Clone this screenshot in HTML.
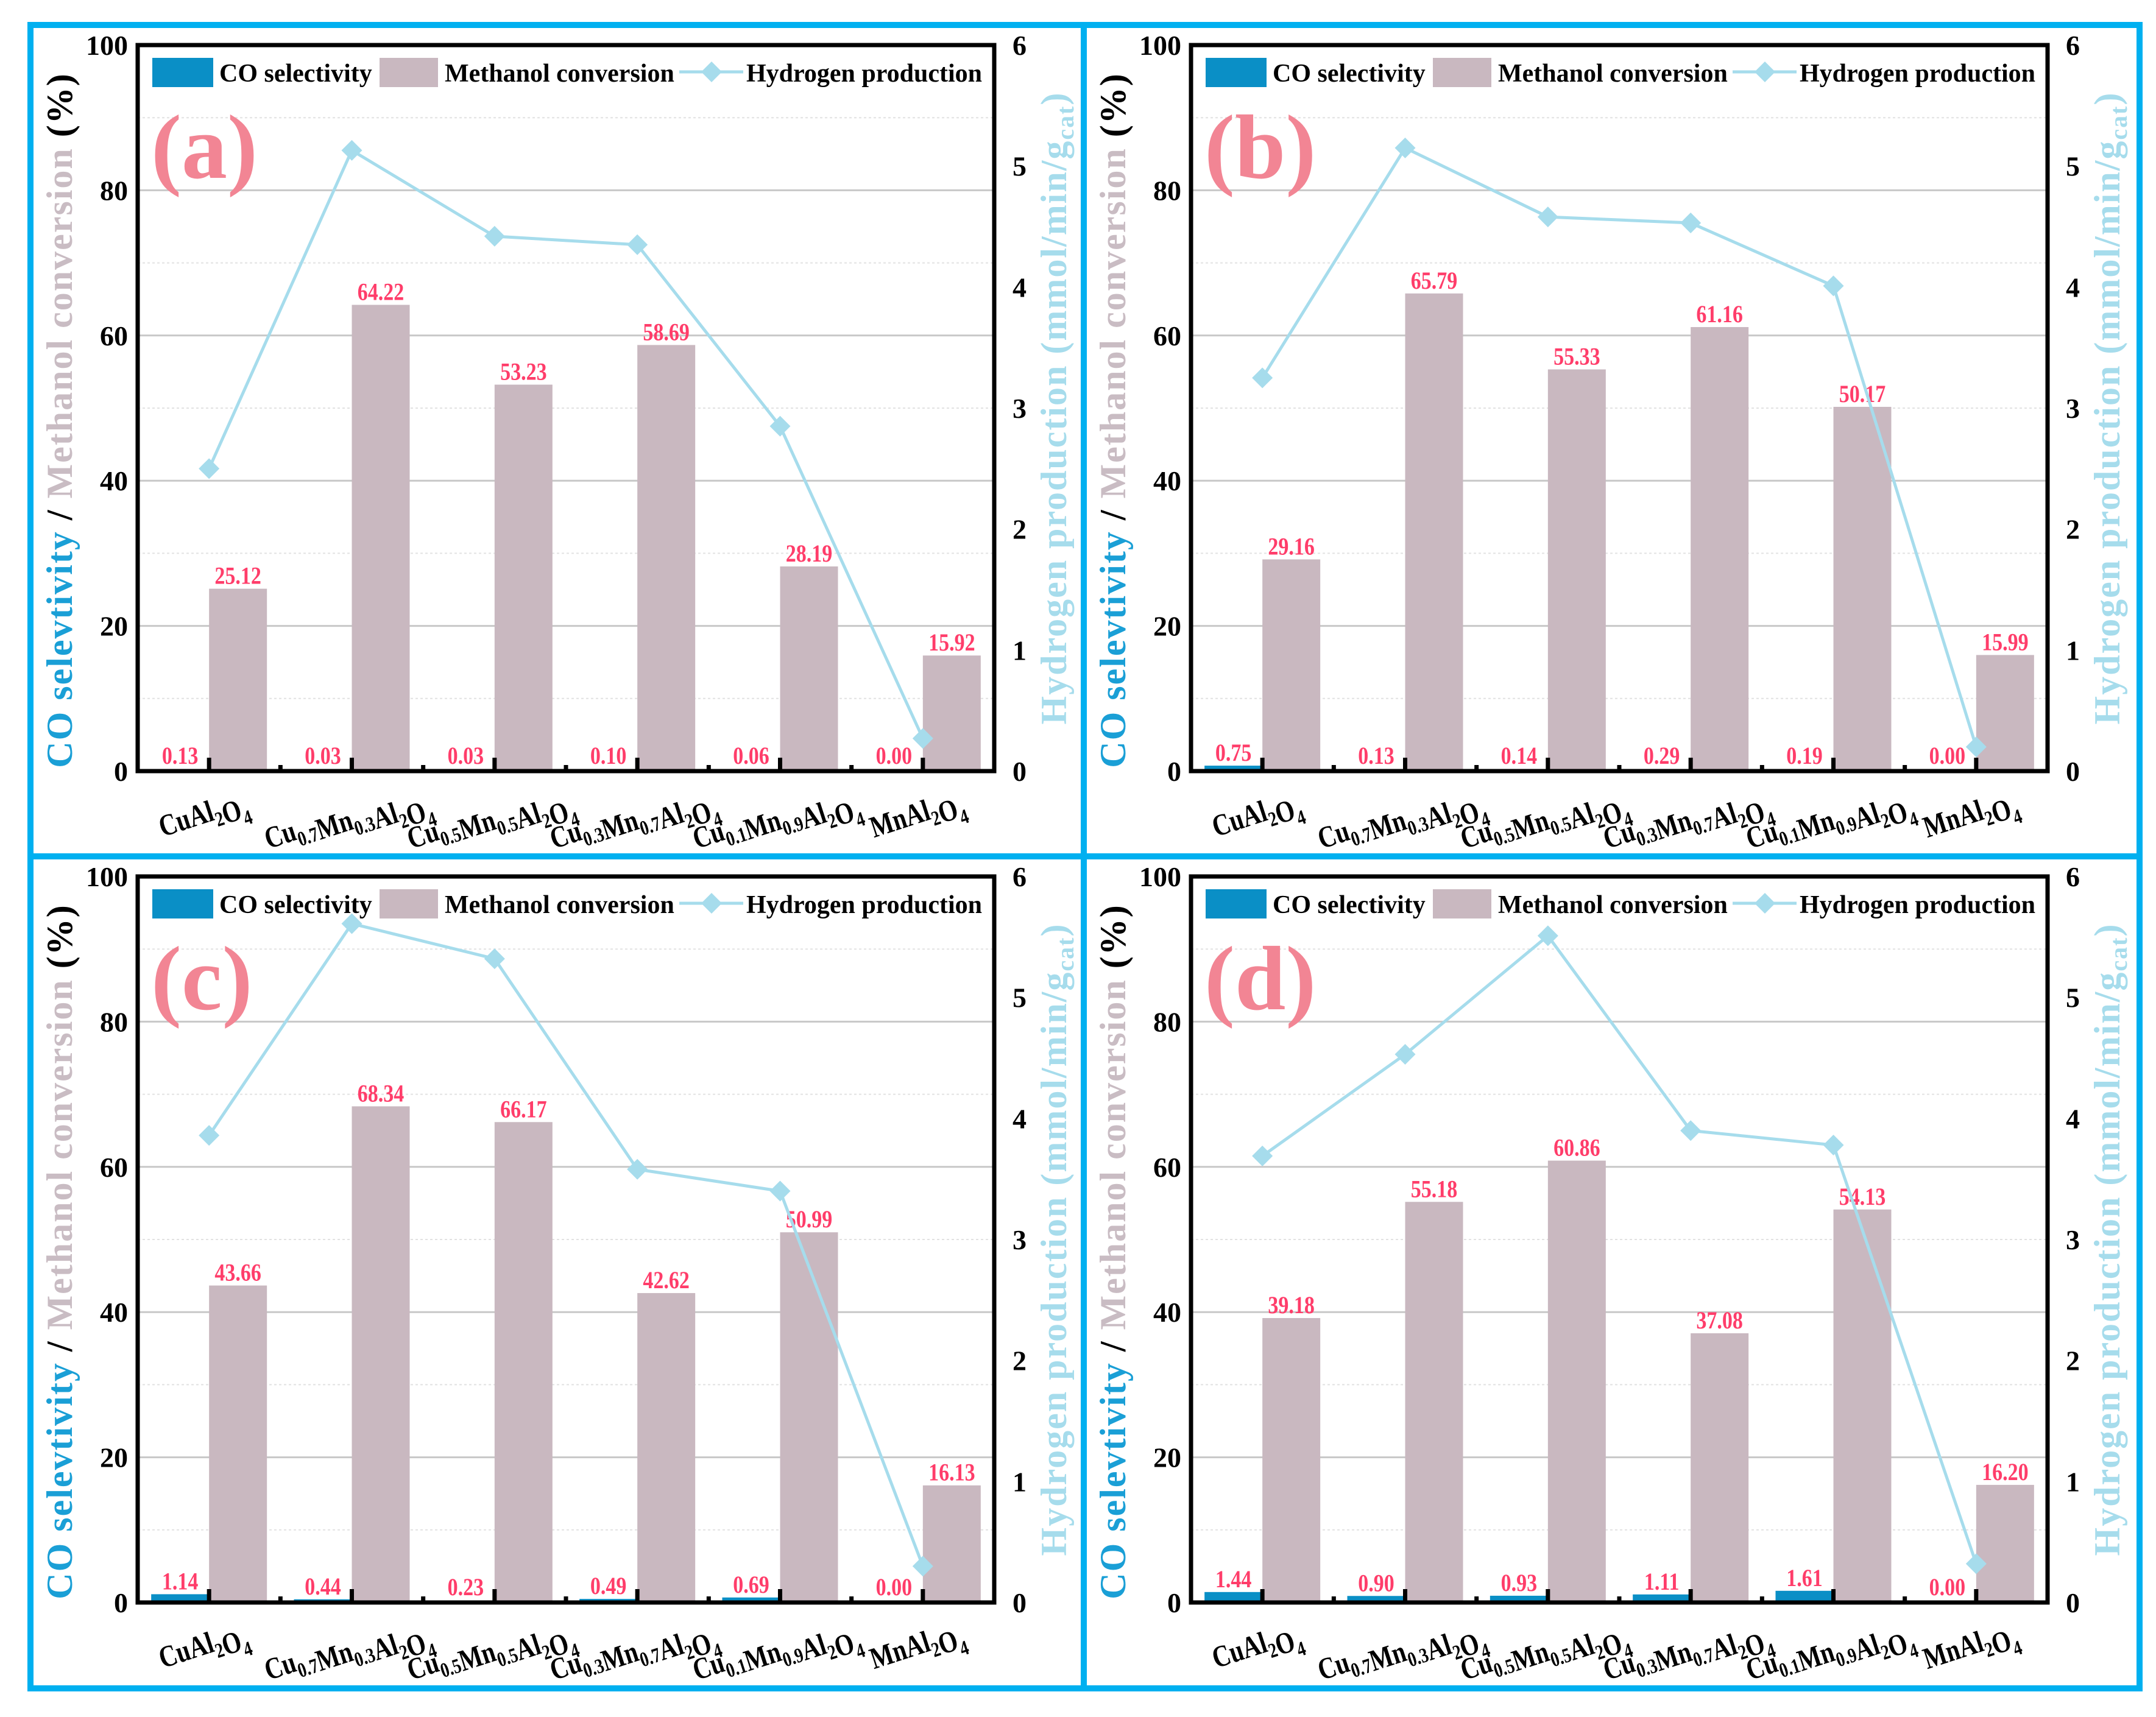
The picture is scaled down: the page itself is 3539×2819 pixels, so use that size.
<!DOCTYPE html>
<html><head><meta charset="utf-8">
<style>
html,body{margin:0;padding:0;background:#fff;}
svg{display:block;font-family:"Liberation Serif",serif;font-weight:bold;}
</style></head>
<body>
<svg id="chart" width="3539" height="2819" viewBox="0 0 3539 2819" xmlns="http://www.w3.org/2000/svg"></svg>
<script>
const categories = [["Cu","","Al","2","O","4"],["Cu","0.7","Mn","0.3","Al","2","O","4"],["Cu","0.5","Mn","0.5","Al","2","O","4"],["Cu","0.3","Mn","0.7","Al","2","O","4"],["Cu","0.1","Mn","0.9","Al","2","O","4"],["Mn","","Al","2","O","4"]];
const panelLetters = ["a","b","c","d"];
const coA = [0.13,0.03,0.03,0.10,0.06,0.00];
const meA = [25.12,64.22,53.23,58.69,28.19,15.92];
const h2A = [2.50,5.13,4.42,4.35,2.85,0.27];
const coB = [0.75,0.13,0.14,0.29,0.19,0.00];
const meB = [29.16,65.79,55.33,61.16,50.17,15.99];
const h2B = [3.25,5.15,4.58,4.53,4.01,0.20];
const coC = [1.14,0.44,0.23,0.49,0.69,0.00];
const meC = [43.66,68.34,66.17,42.62,50.99,16.13];
const h2C = [3.86,5.61,5.32,3.58,3.40,0.30];
const coD = [1.44,0.90,0.93,1.11,1.61,0.00];
const meD = [39.18,55.18,60.86,37.08,54.13,16.20];
const h2D = [3.69,4.53,5.51,3.90,3.78,0.32];
const leftTicks = [0,20,40,60,80,100];
const rightTicks = [0,1,2,3,4,5,6];

const NS="http://www.w3.org/2000/svg";
const svg=document.getElementById('chart');
function mk(tag,attrs,parent){const e=document.createElementNS(NS,tag);for(const k in attrs)e.setAttribute(k,attrs[k]);(parent||svg).appendChild(e);return e;}

const PL=226, PR=1632, PT=74, PB=1266;
const offs=[[0,0],[1729,0],[0,1365],[1729,1365]];
const series=[[coA,meA,h2A],[coB,meB,h2B],[coC,meC,h2C],[coD,meD,h2D]];
const yL=v=>PB-(v/100)*(PB-PT);
const yR=v=>PB-(v/6)*(PB-PT);
const cw=(PR-PL)/categories.length;
const xC=i=>PL+cw*(i+0.5);
const BW=95;

const fr=mk('g',{});


mk('rect',{x:50,y:41,width:3462,height:2731,fill:'none',stroke:'#00b0f0','stroke-width':10},fr);
mk('line',{x1:1779,y1:41,x2:1779,y2:2772,stroke:'#00b0f0','stroke-width':10},fr);
mk('line',{x1:50,y1:1406,x2:3512,y2:1406,stroke:'#00b0f0','stroke-width':10},fr);

series.forEach((s,p)=>{
  const [co,me,h2]=s;
  const g=mk('g',{transform:`translate(${offs[p][0]},${offs[p][1]})`});
  
  
  for(let v=10;v<100;v+=10){
    const gl=mk('line',{x1:PL,x2:PR,y1:yL(v),y2:yL(v),stroke:v%20===0?'#c8c8c8':'#e2e2e2','stroke-width':v%20===0?3:2,'stroke-dasharray':v%20===0?'':'4 4'},g);
    
    
  }
  co.forEach((v,i)=>{
    const r=mk('rect',{x:xC(i)-BW,y:yL(v),width:BW,height:PB-yL(v),fill:'#0a8fc6'},g);
    
    
    const t=mk('text',{transform:`translate(${xC(i)-BW/2},${Math.min(yL(v),PB-4)-8}) scale(0.85,1)`,'font-size':40,fill:'#ff3d6a','text-anchor':'middle'},g);
    t.textContent=v.toFixed(2);
    
    
  });
  me.forEach((v,i)=>{
    const r=mk('rect',{x:xC(i),y:yL(v),width:BW,height:PB-yL(v),fill:'#c9b8c0'},g);
    
    
    const t=mk('text',{transform:`translate(${xC(i)+BW/2},${yL(v)-8}) scale(0.85,1)`,'font-size':40,fill:'#ff3d6a','text-anchor':'middle'},g);
    t.textContent=v.toFixed(2);
    
    
  });
  const pts=h2.map((v,i)=>xC(i)+','+yR(v)).join(' ');
  const pl=mk('polyline',{points:pts,fill:'none',stroke:'#a6dcec','stroke-width':5},g);
  
  
  h2.forEach((v,i)=>{
    const x=xC(i),y=yR(v),d=17;
    const m=mk('polygon',{points:`${x},${y-d} ${x+d},${y} ${x},${y+d} ${x-d},${y}`,fill:'#a6dcec'},g);
    
    
  });
  const ax=mk('rect',{x:PL,y:PT,width:PR-PL,height:PB-PT,fill:'none',stroke:'#000','stroke-width':7},g);
  
  
  categories.forEach((c,i)=>{
    mk('line',{x1:xC(i),x2:xC(i),y1:PB,y2:PB-22,stroke:'#000','stroke-width':7},g);
    mk('line',{x1:PL+cw*(i+1),x2:PL+cw*(i+1),y1:PB,y2:PB-10,stroke:'#000','stroke-width':7},g);
    const lg2=mk('g',{transform:`translate(${xC(i)-5},${PB+85})`},g);
    const lg3=mk('g',{transform:'rotate(-18)'},lg2);
    const t=mk('text',{x:0,y:0,transform:'scale(0.8,1)','font-size':50,'text-anchor':'middle',fill:'#000'},lg3);
    
    
    for(let k=0;k<c.length;k+=2){
      const a=mk('tspan',{},t);a.textContent=c[k];
      if(c[k+1]){const b=mk('tspan',{'font-size':34,dy:12},t);b.textContent=c[k+1];const r=mk('tspan',{dy:-12,'font-size':50},t);r.textContent='';}
    }
  });
  leftTicks.forEach(v=>{
    const t=mk('text',{x:PL-16,y:yL(v)+16,'font-size':46,'text-anchor':'end',fill:'#000'},g);
    t.textContent=v;
    
    
  });
  rightTicks.forEach(v=>{
    const t=mk('text',{x:PR+30,y:yR(v)+16,'font-size':46,'text-anchor':'start',fill:'#000'},g);
    t.textContent=v;
    
    
  });
  const lt=mk('text',{transform:`translate(118,${(PT+PB)/2+20}) rotate(-90)`,'font-size':60,'letter-spacing':2,'text-anchor':'middle'},g);
  
  
  [['CO selevtivity','#1a9fd6'],[' / ','#000'],['Methanol conversion','#c9bcc3'],[' (%)','#000']].forEach(([s,c])=>{const e=mk('tspan',{fill:c},lt);e.textContent=s;});
  const rt=mk('text',{transform:`translate(1750,${(PT+PB)/2}) rotate(-90)`,'font-size':60,'letter-spacing':2,'text-anchor':'middle',fill:'#a6dcec'},g);
  
  
  const r1=mk('tspan',{},rt);r1.textContent='Hydrogen production (mmol/min/g';
  const r2=mk('tspan',{'font-size':40,dy:12},rt);r2.textContent='cat';
  const r3=mk('tspan',{dy:-12},rt);r3.textContent=')';
  const lg=mk('g',{},g);
  
  
  mk('rect',{x:250,y:95,width:100,height:48,fill:'#0a8fc6'},lg);
  let t=mk('text',{x:360,y:134,'font-size':42},lg);t.textContent='CO selectivity';
  mk('rect',{x:623,y:95,width:96,height:48,fill:'#c9b8c0'},lg);
  t=mk('text',{x:730,y:134,'font-size':42},lg);t.textContent='Methanol conversion';
  mk('line',{x1:1115,x2:1220,y1:118,y2:118,stroke:'#a6dcec','stroke-width':5},lg);
  mk('polygon',{points:'1168,101 1185,118 1168,135 1151,118',fill:'#a6dcec'},lg);
  t=mk('text',{x:1225,y:134,'font-size':42},lg);t.textContent='Hydrogen production';
  const pt=mk('text',{x:248,y:292,'font-size':150,fill:'#f28594'},g);
  pt.textContent='('+panelLetters[p]+')';
  
  
});
</script>
</body></html>
